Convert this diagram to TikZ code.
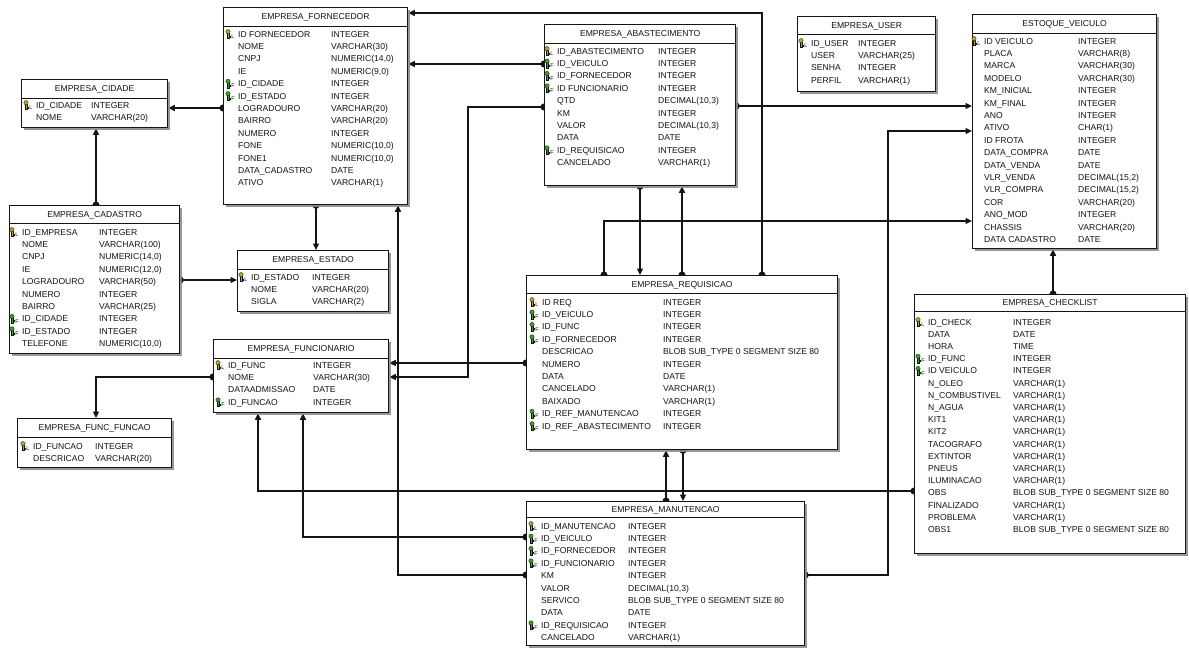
\documentclass[tikz,border=0pt]{standalone}
\usepackage{fontspec}
\setmainfont{Liberation Sans}
\usetikzlibrary{arrows.meta,shadows,calc}
\pgfdeclarelayer{back}
\pgfdeclarelayer{bg}
\pgfsetlayers{back,bg,main}
\definecolor{ink}{HTML}{141414}
\definecolor{pkc}{HTML}{B9A320}
\definecolor{fkc}{HTML}{3E9E24}
\tikzset{
  tbox/.style={draw=ink, line width=1.3pt, fill=white, inner sep=0pt, anchor=north west,
    drop shadow={shadow xshift=2pt, shadow yshift=-2pt, fill=black!45, opacity=0.9}},
  hdr/.style={draw=ink, line width=0.9pt},
  cell/.style={anchor=base west, inner sep=0pt, font=\fontsize{8.6}{9}\selectfont, text=ink},
  ttl/.style={anchor=base, inner sep=0pt, font=\fontsize{8.6}{9}\selectfont, text=ink},
  kl/.style={anchor=base west, inner sep=0pt, font=\fontsize{5.5}{6}\selectfont, text=ink},
  rel/.style={draw=ink, line width=1.1pt,
    {Circle[length=7pt]}-{Triangle[length=6.5pt,width=6pt]}, shorten <=-3.5pt},
}
\newcommand{\keyic}[5]{%
  \filldraw[fill=#3, draw=ink, line width=0.3pt] (#1+1.7,#2-1.2) rectangle (#1+3.3,#2+4.3);
  \filldraw[fill=#3, draw=ink, line width=0.3pt] (#1+3.3,#2+1.8) rectangle (#1+4.3,#2+2.8);
  \filldraw[fill=#3, draw=ink, line width=0.3pt] (#1+2.5,#2-2.3) circle (2.2pt);
  \node[kl] (#5) at (#1+5.6,#2+4.3) {#4};
}
\newcommand{\ertable}[8]{%
  \node[tbox, minimum width=#4pt, minimum height=#5pt] (#1) at (#2,#3) {};
  \draw[hdr] (#1.west |- 0,#6) -- (#1.east |- 0,#6);
  \node[ttl] (#1-t) at (#1.north |- 0,#7+3.1) {#8};
}
\newcommand{\errows}[6]{%
  \foreach [count=\i] \a/\b/\k in {#6} {
    \pgfmathsetmacro{\yy}{#4+#5*(\i-1)}
    \pgfmathsetmacro{\kx}{#2-12.5}
    \node[cell] (#1-a\i) at (#2,\yy+3.1) {\a};
    \node[cell] (#1-b\i) at (#3,\yy+3.1) {\b};
    \if P\k \keyic{\kx}{\yy}{pkc}{L}{#1-k\i}\fi
    \if F\k \keyic{\kx}{\yy}{fkc}{F}{#1-k\i}\fi
  }
}
\begin{document}
\begin{tikzpicture}[x=1pt,y=-1pt]
\useasboundingbox (0,0) rectangle (1189,648);
\begin{pgfonlayer}{back}
\fill[white] (0,0) rectangle (1189,648);
\end{pgfonlayer}

% EMPRESA_FORNECEDOR
\ertable{forn}{223}{7}{184}{197}{26}{16.5}{EMPRESA\_FORNECEDOR}
\errows{forn}{238}{331}{34}{12.4}{ID FORNECEDOR/INTEGER/P, NOME/VARCHAR(30)/N, CNPJ/{NUMERIC(14,0)}/N, IE/{NUMERIC(9,0)}/N, ID\_CIDADE/INTEGER/F, ID\_ESTADO/INTEGER/F, LOGRADOURO/VARCHAR(20)/N, BAIRRO/VARCHAR(20)/N, NUMERO/INTEGER/N, FONE/{NUMERIC(10,0)}/N, FONE1/{NUMERIC(10,0)}/N, DATA\_CADASTRO/DATE/N, ATIVO/VARCHAR(1)/N}

% EMPRESA_CIDADE
\ertable{cid}{21}{79}{146}{48}{98}{88}{EMPRESA\_CIDADE}
\errows{cid}{36}{91}{105}{12.4}{ID\_CIDADE/INTEGER/P, NOME/VARCHAR(20)/N}

% EMPRESA_CADASTRO
\ertable{cad}{9}{205}{170}{148}{223}{214}{EMPRESA\_CADASTRO}
\errows{cad}{22}{99}{232}{12.4}{ID\_EMPRESA/INTEGER/P, NOME/VARCHAR(100)/N, CNPJ/{NUMERIC(14,0)}/N, IE/{NUMERIC(12,0)}/N, LOGRADOURO/VARCHAR(50)/N, NUMERO/INTEGER/N, BAIRRO/VARCHAR(25)/N, ID\_CIDADE/INTEGER/F, ID\_ESTADO/INTEGER/F, TELEFONE/{NUMERIC(10,0)}/N}

% EMPRESA_ESTADO
\ertable{est}{237}{250}{151}{61}{269}{259.5}{EMPRESA\_ESTADO}
\errows{est}{251}{312}{277}{12.4}{ID\_ESTADO/INTEGER/P, NOME/VARCHAR(20)/N, SIGLA/VARCHAR(2)/N}

% EMPRESA_FUNCIONARIO
\ertable{func}{213}{339}{175}{73}{358}{348.5}{EMPRESA\_FUNCIONARIO}
\errows{func}{228}{313}{365}{12.4}{ID\_FUNC/INTEGER/P, NOME/VARCHAR(30)/N, DATAADMISSAO/DATE/N, ID\_FUNCAO/INTEGER/F}

% EMPRESA_FUNC_FUNCAO
\ertable{ff}{17}{418}{154}{49}{437}{427.5}{EMPRESA\_FUNC\_FUNCAO}
\errows{ff}{33}{95}{446}{12.4}{ID\_FUNCAO/INTEGER/P, DESCRICAO/VARCHAR(20)/N}

% EMPRESA_ABASTECIMENTO
\ertable{abas}{544}{24}{191}{161}{43}{33.5}{EMPRESA\_ABASTECIMENTO}
\errows{abas}{557}{658}{51}{12.4}{ID\_ABASTECIMENTO/INTEGER/P, ID\_VEICULO/INTEGER/F, ID\_FORNECEDOR/INTEGER/F, ID FUNCIONARIO/INTEGER/F, QTD/{DECIMAL(10,3)}/N, KM/INTEGER/N, VALOR/{DECIMAL(10,3)}/N, DATA/DATE/N, ID\_REQUISICAO/INTEGER/F, CANCELADO/VARCHAR(1)/N}

% EMPRESA_USER
\ertable{usr}{797}{16}{138}{75}{34}{25}{EMPRESA\_USER}
\errows{usr}{811}{858}{43}{12.4}{ID\_USER/INTEGER/P, USER/VARCHAR(25)/N, SENHA/INTEGER/N, PERFIL/VARCHAR(1)/N}

% ESTOQUE_VEICULO
\ertable{vei}{972}{14}{184}{234}{33}{23.5}{ESTOQUE\_VEICULO}
\errows{vei}{984}{1078}{41}{12.4}{ID VEICULO/INTEGER/P, PLACA/VARCHAR(8)/N, MARCA/VARCHAR(30)/N, MODELO/VARCHAR(30)/N, KM\_INICIAL/INTEGER/N, KM\_FINAL/INTEGER/N, ANO/INTEGER/N, ATIVO/CHAR(1)/N, ID FROTA/INTEGER/N, DATA\_COMPRA/DATE/N, DATA\_VENDA/DATE/N, VLR\_VENDA/{DECIMAL(15,2)}/N, VLR\_COMPRA/{DECIMAL(15,2)}/N, COR/VARCHAR(20)/N, ANO\_MOD/INTEGER/N, CHASSIS/VARCHAR(20)/N, DATA CADASTRO/DATE/N}

% EMPRESA_REQUISICAO
\ertable{req}{526}{275}{311}{174}{293}{284}{EMPRESA\_REQUISICAO}
\errows{req}{542}{663}{302}{12.4}{ID REQ/INTEGER/P, ID\_VEICULO/INTEGER/F, ID\_FUNC/INTEGER/F, ID\_FORNECEDOR/INTEGER/F, DESCRICAO/BLOB SUB\_TYPE 0 SEGMENT SIZE 80/N, NUMERO/INTEGER/N, DATA/DATE/N, CANCELADO/VARCHAR(1)/N, BAIXADO/VARCHAR(1)/N, ID\_REF\_MANUTENCAO/INTEGER/F, ID\_REF\_ABASTECIMENTO/INTEGER/F}

% EMPRESA_CHECKLIST
\ertable{chk}{914}{294}{271}{259}{311}{302.5}{EMPRESA\_CHECKLIST}
\errows{chk}{928}{1013}{322}{12.2}{ID\_CHECK/INTEGER/P, DATA/DATE/N, HORA/TIME/N, ID\_FUNC/INTEGER/F, ID VEICULO/INTEGER/F, N\_OLEO/VARCHAR(1)/N, N\_COMBUSTIVEL/VARCHAR(1)/N, N\_AGUA/VARCHAR(1)/N, KIT1/VARCHAR(1)/N, KIT2/VARCHAR(1)/N, TACOGRAFO/VARCHAR(1)/N, EXTINTOR/VARCHAR(1)/N, PNEUS/VARCHAR(1)/N, ILUMINACAO/VARCHAR(1)/N, OBS/BLOB SUB\_TYPE 0 SEGMENT SIZE 80/N, FINALIZADO/VARCHAR(1)/N, PROBLEMA/VARCHAR(1)/N, OBS1/BLOB SUB\_TYPE 0 SEGMENT SIZE 80/N}

% EMPRESA_MANUTENCAO
\ertable{man}{526}{501}{278}{144}{517}{509}{EMPRESA\_MANUTENCAO}
\errows{man}{541}{628}{526}{12.4}{ID\_MANUTENCAO/INTEGER/P, ID\_VEICULO/INTEGER/F, ID\_FORNECEDOR/INTEGER/F, ID\_FUNCIONARIO/INTEGER/F, KM/INTEGER/N, VALOR/{DECIMAL(10,3)}/N, SERVICO/BLOB SUB\_TYPE 0 SEGMENT SIZE 80/N, DATA/DATE/N, ID\_REQUISICAO/INTEGER/F, CANCELADO/VARCHAR(1)/N}

\begin{pgfonlayer}{bg}
  \draw[rel] (forn.west |- 0,108) -- (cid.east |- 0,108);
  \draw[rel] (cad.north -| 96,0) -- (cid.south -| 96,0);
  \draw[rel] (cad.east |- 0,280) -- (est.west |- 0,280);
  \draw[rel] (forn.south -| 316,0) -- (est.north -| 316,0);
  \draw[rel] (req.north -| 762,0) |- (forn.east |- 0,13);
  \draw[rel] (abas.west |- 0,64) -- (forn.east |- 0,64);
  \draw[rel] (man.west |- 0,575) -| (forn.south -| 398,0);
  \draw[rel] (req.west |- 0,363) -- (func.east |- 0,363);
  \draw[rel] (abas.west |- 0,107) -| (468,377) -- (func.east |- 0,377);
  \draw[rel] (chk.west |- 0,491) -| (func.south -| 258,0);
  \draw[rel] (man.west |- 0,537) -| (func.south -| 303,0);
  \draw[rel] (func.west |- 0,377) -| (ff.north -| 96,0);
  \draw[rel] (abas.south -| 640,0) -- (req.north -| 640,0);
  \draw[rel] (req.north -| 682,0) -- (abas.south -| 682,0);
  \draw[rel] (req.north -| 604,0) |- (vei.west |- 0,221);
  \draw[rel] (man.east |- 0,575) -| (888,131) -- (vei.west |- 0,131);
  \draw[rel] (abas.east |- 0,106) -- (vei.west |- 0,106);
  \draw[rel] (chk.north -| 1053,0) -- (vei.south -| 1053,0);
  \draw[rel] (man.north -| 666,0) -- (req.south -| 666,0);
  \draw[rel] (req.south -| 683,0) -- (man.north -| 683,0);
\end{pgfonlayer}
\end{tikzpicture}
\end{document}
